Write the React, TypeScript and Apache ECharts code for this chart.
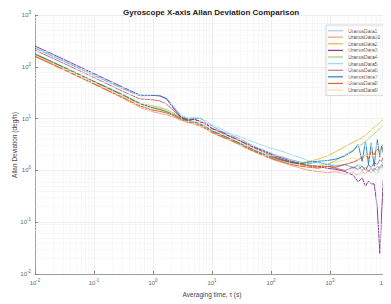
import React, { useEffect, useRef } from "react";
import * as echarts from "echarts";

const tau = [0.01, 0.03, 0.1, 0.3, 0.6, 1, 1.3, 1.7, 2.2, 3, 4, 5, 6.3, 8, 10, 14, 20, 28, 40, 56, 80, 110, 160, 220, 320, 450, 630, 900, 1250, 1800, 2500, 3000, 3500, 4000, 4500, 5000, 5600, 6300, 7000, 7500, 8000, 8400];

const seriesNames = ["UranusData1", "UranusData10", "UranusData2", "UranusData3", "UranusData4", "UranusData5", "UranusData6", "UranusData7", "UranusData8", "UranusData9"];

const d1 = [228, 129, 68, 38, 27.5, 28, 27.5, 24.5, 17, 11, 9.8, 10, 10.2, 8.3, 7.2, 5.8, 4.9, 4.2, 3.4, 2.8, 2.4, 2.05, 1.8, 1.6, 1.45, 1.35, 1.45, 1.3, 1.2, 1.3, 1.1, 1.25, 1.0, 1.15, 0.95, 1.1, 1.0, 1.2, 1.1, 1.3, 1.2, 1.3];
const d10 = [157, 88, 46, 25, 16.5, 13.5, 12.6, 11.8, 10.8, 9.2, 8.2, 7.8, 7.0, 6.2, 5.3, 4.5, 3.8, 3.2, 2.6, 2.2, 1.85, 1.6, 1.4, 1.25, 1.1, 1.0, 0.95, 0.9, 0.95, 0.85, 0.9, 0.8, 0.95, 0.85, 1.0, 0.9, 1.1, 1.0, 1.2, 1.1, 1.3, 1.25];
const d2 = [172, 97, 51, 28.5, 19, 16.5, 15.5, 14, 12.2, 10, 8.8, 8.5, 7.6, 6.6, 5.6, 4.8, 4.0, 3.4, 2.8, 2.3, 1.95, 1.7, 1.55, 1.45, 1.4, 1.5, 1.65, 1.9, 2.3, 2.9, 3.5, 3.9, 4.3, 4.8, 5.4, 6.0, 6.8, 7.6, 8.4, 9.0, 9.8, 10.5];
const d3 = [252, 141, 74, 41, 28.5, 28, 27.5, 24, 16, 10.5, 9.2, 9.8, 8.6, 8.0, 6.4, 5.6, 4.6, 3.9, 3.2, 2.7, 2.3, 1.95, 1.7, 1.5, 1.35, 1.25, 1.2, 1.1, 1.05, 0.95, 0.8, 0.6, 0.72, 0.5, 0.62, 0.55, 0.55, 0.2, 0.025, 0.15, 0.66, 0.72];
const d4 = [180, 101, 53, 30, 20, 17.5, 16.5, 15, 13, 10.5, 9.2, 8.8, 8.0, 7.0, 6.0, 5.0, 4.2, 3.5, 2.9, 2.4, 2.05, 1.8, 1.6, 1.45, 1.35, 1.25, 1.2, 1.3, 1.55, 2.0, 2.5, 2.9, 3.2, 3.6, 4.1, 4.6, 5.1, 5.8, 6.5, 7.0, 7.5, 7.9];
const d5 = [238, 134, 71, 39.5, 28, 28.5, 28, 25, 17.5, 11.5, 10.2, 10.5, 10.0, 9.0, 7.5, 6.4, 5.2, 4.6, 3.9, 3.4, 2.9, 2.6, 2.3, 2.0, 1.75, 1.5, 1.4, 1.3, 1.25, 1.3, 1.15, 1.3, 1.2, 1.1, 1.25, 1.05, 0.95, 0.85, 1.1, 1.3, 1.5, 1.35];
const d6 = [210, 118, 62, 34, 24, 23, 22, 19, 14.5, 10.5, 9.5, 9.6, 9.0, 7.6, 6.5, 5.4, 4.5, 3.8, 3.1, 2.6, 2.2, 1.85, 1.6, 1.45, 1.3, 1.2, 1.15, 1.2, 1.1, 1.0, 1.15, 1.05, 1.2, 1.0, 1.3, 1.15, 1.4, 1.3, 1.6, 1.5, 1.8, 1.75];
const d7 = [176, 99, 52, 29, 19.5, 16, 15, 13.5, 12, 10, 9, 8.6, 7.8, 6.8, 5.8, 4.9, 4.1, 3.4, 2.8, 2.35, 2.0, 1.75, 1.55, 1.4, 1.35, 1.45, 1.5, 1.55, 1.65, 1.9, 2.4, 3.2, 1.5, 3.6, 1.3, 3.4, 1.2, 4.0, 1.8, 3.0, 2.2, 4.9];
const d8 = [160, 90, 47, 26, 17.5, 14.5, 13.8, 12.8, 11.5, 9.6, 8.5, 8.2, 7.4, 6.4, 5.5, 4.6, 3.9, 3.3, 2.7, 2.25, 1.9, 1.65, 1.45, 1.3, 1.2, 1.15, 1.1, 1.2, 1.15, 1.3, 1.45, 1.6, 1.8, 2.0, 1.7, 2.3, 2.0, 2.6, 2.3, 2.9, 3.2, 3.4];
const d9 = [168, 95, 50, 27.5, 18.5, 15.5, 14.5, 13.2, 11.8, 9.8, 8.7, 8.3, 7.5, 6.5, 5.6, 4.7, 4.0, 3.3, 2.75, 2.3, 1.95, 1.7, 1.5, 1.35, 1.25, 1.2, 1.25, 1.35, 1.45, 1.6, 1.75, 1.6, 1.9, 1.7, 2.1, 1.8, 2.3, 2.0, 2.5, 2.2, 2.7, 2.5];

const seriesValues = [d1, d10, d2, d3, d4, d5, d6, d7, d8, d9];
const seriesColors = [
  "rgba(0,114,189,0.5)",
  "rgba(217,83,25,0.5)",
  "rgba(237,177,32,0.85)",
  "rgba(126,47,142,0.9)",
  "rgba(119,172,48,0.6)",
  "rgba(77,190,238,0.55)",
  "rgba(162,20,47,0.6)",
  "rgba(0,114,189,0.8)",
  "rgba(217,83,25,0.9)",
  "rgba(237,177,32,0.4)",
];

const xDecades = [0.01, 0.1, 1, 10, 100, 1000];
const yDecades = [0.01, 0.1, 1, 10, 100];
const minorMultipliers = [2, 3, 4, 5, 6, 7, 8, 9];

const yTitle = "Allan Deviation (deg/h)";
const xTitle = "Averaging time, \u03c4 (s)";
const chartTitle = "Gyroscope X-axis Allan Deviation Comparison";

const FONT = "'Liberation Sans', Arial, sans-serif";

function powLabel(v: number) {
  const e = Math.round(Math.log10(v));
  return `{b|10}{e|${e}}`;
}

const labelRich = {
  b: { fontSize: 6, color: "#666", fontFamily: FONT },
  e: { fontSize: 4.5, color: "#666", fontFamily: FONT, padding: [0, 0, 5, 0] },
};

export default function App() {
  const ref = useRef<HTMLDivElement>(null);
  useEffect(() => {
    if (!ref.current) return;
    const chart = echarts.init(ref.current, null, { renderer: "svg" });
    const minorLines: any[] = [];
    xDecades.forEach((d) => minorMultipliers.forEach((m) => minorLines.push({ xAxis: d * m })));
    yDecades.forEach((d) => minorMultipliers.forEach((m) => minorLines.push({ yAxis: d * m })));
    chart.setOption({
      animation: false,
      backgroundColor: "#fff",
      title: {
        text: chartTitle,
        left: 118,
        top: 3,
        textStyle: { fontSize: 8, fontWeight: "bold", color: "#222", fontFamily: FONT },
      },
      grid: { left: 35, right: 2, top: 15, bottom: 30, outerBoundsMode: "none", containLabel: false },
      graphic: [
        {
          type: "text",
          x: 14,
          y: 145,
          rotation: Math.PI / 2,
          style: {
            text: yTitle,
            fontSize: 6.5,
            fill: "#444",
            fontFamily: FONT,
            align: "center",
            verticalAlign: "middle",
          },
        },
      ],
      legend: {
        orient: "vertical",
        left: 326,
        top: 25,
        data: seriesNames,
        icon: "rect",
        backgroundColor: "#fff",
        borderColor: "#bbb",
        borderWidth: 0.6,
        padding: [3, 3, 3, 2],
        itemWidth: 15,
        itemHeight: 1.3,
        itemGap: 1.4,
        textStyle: { fontSize: 5, color: "#444", fontFamily: FONT, lineHeight: 5.2 },
      },
      xAxis: {
        type: "log",
        logBase: 10,
        min: 0.01,
        max: 10000,
        name: xTitle,
        nameLocation: "middle",
        nameGap: 14,
        nameTextStyle: { fontSize: 6.5, color: "#444", fontFamily: FONT },
        axisLine: { lineStyle: { color: "#888", width: 0.8 } },
        axisTick: { inside: true, length: 3, lineStyle: { color: "#888" } },
        axisLabel: { formatter: powLabel, rich: labelRich, margin: 4, alignMaxLabel: "right" },
        splitLine: { show: true, lineStyle: { color: "#e2e2e2", width: 0.6 } },
      },
      yAxis: {
        type: "log",
        logBase: 10,
        min: 0.01,
        max: 1000,
        axisLine: { show: true, lineStyle: { color: "#888", width: 0.8 } },
        axisTick: { show: true, inside: true, length: 3, lineStyle: { color: "#888" } },
        axisLabel: { formatter: powLabel, rich: labelRich, margin: 4 },
        splitLine: { show: true, lineStyle: { color: "#e2e2e2", width: 0.6 } },
      },
      series: [
        {
          name: "__grid",
          type: "line",
          data: [],
          z: 1,
          silent: true,
          markLine: {
            silent: true,
            symbol: "none",
            animation: false,
            label: { show: false },
            lineStyle: { color: "#f1f1f1", width: 0.5, type: "solid" },
            data: minorLines,
          },
        },
        ...seriesNames.map((name, i) => ({
          name,
          type: "line",
          z: 3,
          symbol: "none",
          showSymbol: false,
          color: seriesColors[i],
          lineStyle: { width: 1, color: seriesColors[i] },
          data: tau.map((t, j) => [t, seriesValues[i][j]]),
        })),
      ],
    });
    return () => chart.dispose();
  }, []);
  return <div ref={ref} style={{ width: 391, height: 304, marginLeft: -8, marginTop: -8 }} />;
}
